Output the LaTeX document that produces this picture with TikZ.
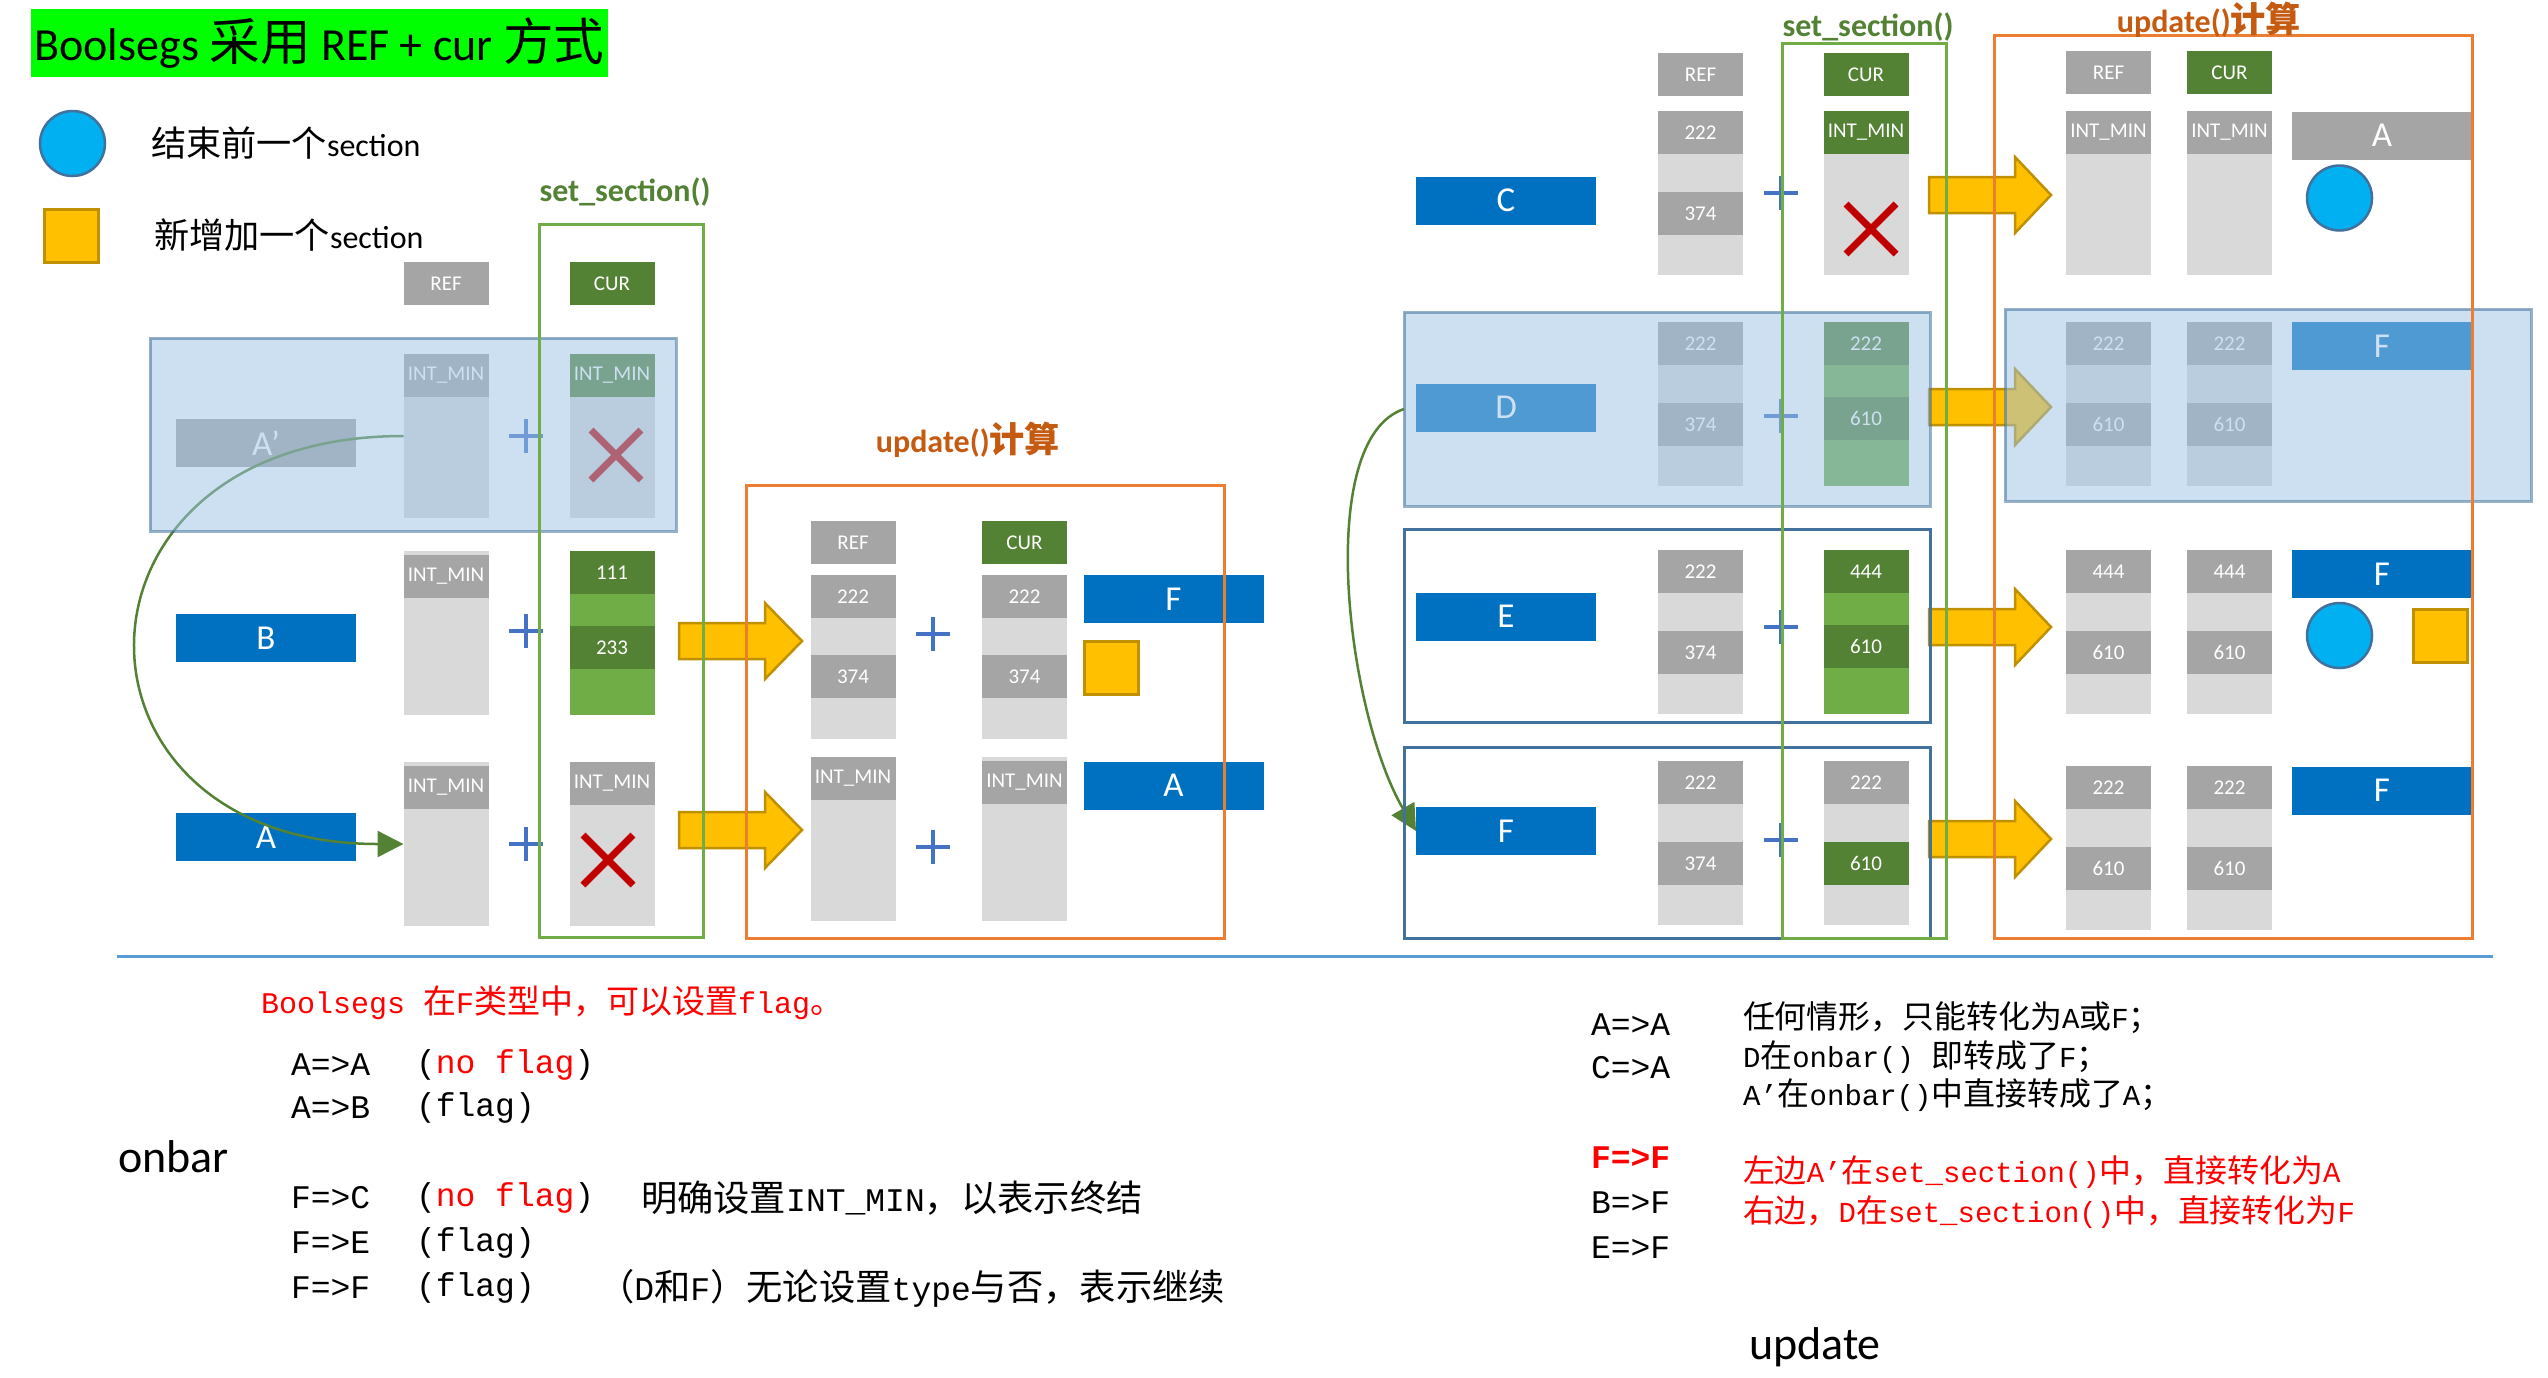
\documentclass[tikz,border=0pt]{standalone}
\usepackage{fontspec}
\setmainfont{Carlito}
\newfontfamily\cjk[Scale=1.1]{Noto Sans CJK SC}
\newfontfamily\mono{Liberation Mono}
\newcommand{\zh}[1]{{\cjk #1}}
\usetikzlibrary{arrows.meta,positioning}

\definecolor{lgray}{HTML}{D9D9D9}
\definecolor{dgray}{HTML}{A5A5A5}
\definecolor{dgreen}{HTML}{548235}
\definecolor{lgreen}{HTML}{70AD47}
\definecolor{barblue}{HTML}{0070C0}
\definecolor{plusblue}{HTML}{4472C4}
\definecolor{xred}{HTML}{C00000}
\definecolor{veilblue}{HTML}{9DC3E6}
\definecolor{edgeblue}{HTML}{41719C}
\definecolor{ayellow}{HTML}{FFC000}
\definecolor{adark}{HTML}{BF9000}
\definecolor{forange}{HTML}{ED7D31}
\definecolor{lorange}{HTML}{C55A11}
\definecolor{sepblue}{HTML}{5B9BD5}
\definecolor{cyanfill}{HTML}{00B0F0}
\definecolor{tgreen}{HTML}{00FF00}

\begin{document}
\begin{tikzpicture}[
    x=1pt, y=-1pt,
    every node/.style={inner sep=0pt, outer sep=0pt},
    colbg/.style={fill=lgray, minimum width=85pt, minimum height=164pt, anchor=north},
    gcolbg/.style={colbg, fill=lgreen},
    cell/.style={fill=dgray, minimum width=85pt, minimum height=43pt, anchor=north, text=white, font=\fontsize{21}{21}\selectfont},
    gcell/.style={cell, fill=dgreen},
    bar/.style={fill=barblue, minimum width=180pt, minimum height=48pt, text=white, font=\fontsize{35}{35}\selectfont},
    gbar/.style={bar, fill=dgray},
    plussign/.style={draw=plusblue, line width=4pt},
    xmark/.style={draw=xred, line width=7pt},
    veil/.style={fill=veilblue, fill opacity=.51, draw=edgeblue, draw opacity=.55, line width=3pt, anchor=north west},
    edgebox/.style={draw=edgeblue, line width=3pt, anchor=north west},
    setframe/.style={draw=lgreen, line width=3pt, anchor=north west},
    updframe/.style={draw=forange, line width=3pt, anchor=north west},
    yarrow/.style={fill=ayellow, draw=adark, line width=2.5pt},
    link/.style={draw=dgreen, line width=2.5pt, -{Triangle[length=26pt, width=26pt]}},
    endmark/.style={circle, fill=cyanfill, draw=edgeblue, line width=2.5pt, minimum size=65pt},
    newmark/.style={fill=ayellow, draw=adark, line width=3pt, minimum width=54pt, minimum height=53pt},
    setlabel/.style={text=dgreen, font=\bfseries\fontsize{32}{32}\selectfont},
    updlabel/.style={text=lorange, font=\bfseries\fontsize{32}{32}\selectfont},
    txt/.style={anchor=west, font=\mono\fontsize{33}{33}\selectfont},
    ]
    \useasboundingbox (0,0) rectangle (2548,1377);

    % title and legend
    \node[fill=tgreen, minimum width=577pt, minimum height=68pt, anchor=north west, font=\fontsize{46}{46}\selectfont] (title) at (31,9) {Boolsegs \zh{采用} REF + cur \zh{方式}};
    \node[endmark] (legend-end) at (72.5,143.5) {};
    \node[right=46pt of legend-end, font=\fontsize{32}{32}\selectfont] (legend-end-txt) {\zh{结束前一个}section};
    \node[newmark] (legend-new) at (71,235.5) {};
    \node[right=56pt of legend-new, font=\fontsize{32}{32}\selectfont] (legend-new-txt) {\zh{新增加一个}section};

    % left: set_section()
    \node[cell] (l-ref) at (446,262) {REF};
    \node[gcell] (l-cur) at (612,262) {CUR};
    \node[colbg] (lAp-ref) at (446,354) {};
    \node[cell] (lAp-ref-h) at (lAp-ref.north) {INT\_MIN};
    \node[colbg] (lAp-cur) at (612,354) {};
    \node[gcell] (lAp-cur-h) at (lAp-cur.north) {INT\_MIN};
    \node[colbg] (lB-ref) at (446,551) {};
    \node[cell] (lB-ref-h) at ([yshift=-4pt]lB-ref.north) {INT\_MIN};
    \node[gcolbg] (lB-cur) at (612,551) {};
    \node[gcell] (lB-cur-a) at (lB-cur.north) {111};
    \node[gcell] (lB-cur-b) at ([yshift=-75pt]lB-cur.north) {233};
    \node[colbg] (lA-ref) at (446,762) {};
    \node[cell] (lA-ref-h) at ([yshift=-4pt]lA-ref.north) {INT\_MIN};
    \node[colbg] (lA-cur) at (612,762) {};
    \node[cell] (lA-cur-h) at (lA-cur.north) {INT\_MIN};
    \node[gbar] (lAp) at (266,443) {A'};
    \node[bar] (lB) at (266,638) {B};
    \node[bar] (lA) at (266,837) {A};

    % left: update()
    \node[cell] (ul-ref) at (853,521) {REF};
    \node[gcell] (ul-cur) at (1024.5,521) {CUR};
    \foreach \c/\x in {ref/853,cur/1024.5} {
        \node[colbg] (ul1-\c) at (\x,575) {};
        \node[cell] (ul1-\c-a) at (ul1-\c.north) {222};
        \node[cell] (ul1-\c-b) at ([yshift=-80pt]ul1-\c.north) {374};
        \node[colbg] (ul2-\c) at (\x,757) {};
    }
    \node[cell] (ul2-ref-h) at (ul2-ref.north) {INT\_MIN};
    \node[cell] (ul2-cur-h) at ([yshift=-4pt]ul2-cur.north) {INT\_MIN};
    \node[bar] (ulF) at (1173.5,599) {F};
    \node[bar] (ulA) at (1173.5,785.5) {A};
    \node[newmark] (ul-new) at (1111,668) {};

    % right: set_section()
    \node[cell] (r-ref) at (1700.5,53) {REF};
    \node[gcell] (r-cur) at (1866,53) {CUR};
    \foreach \n/\y in {C/111,D/322,E/550,F/761} {
        \node[colbg] (r\n-ref) at (1700.5,\y) {};
        \node[cell] (r\n-ref-a) at (r\n-ref.north) {222};
        \node[cell] (r\n-ref-b) at ([yshift=-81pt]r\n-ref.north) {374};
    }
    \node[colbg] (rC-cur) at (1866,111) {};
    \node[gcell] (rC-cur-h) at (rC-cur.north) {INT\_MIN};
    \node[gcolbg] (rD-cur) at (1866,322) {};
    \node[gcell] (rD-cur-a) at (rD-cur.north) {222};
    \node[gcell] (rD-cur-b) at ([yshift=-75pt]rD-cur.north) {610};
    \node[gcolbg] (rE-cur) at (1866,550) {};
    \node[gcell] (rE-cur-a) at (rE-cur.north) {444};
    \node[gcell] (rE-cur-b) at ([yshift=-75pt]rE-cur.north) {610};
    \node[colbg] (rF-cur) at (1866,761) {};
    \node[cell] (rF-cur-a) at (rF-cur.north) {222};
    \node[gcell] (rF-cur-b) at ([yshift=-81pt]rF-cur.north) {610};
    \foreach \n/\y in {C/200.5,D/407.5,E/616.5,F/831}
        \node[bar] (r\n) at (1506,\y) {\n};

    % right: update()
    \node[cell] (ur-ref) at (2108.5,51) {REF};
    \node[gcell] (ur-cur) at (2229.5,51) {CUR};
    \foreach \c/\x in {ref/2108.5,cur/2229.5} {
        \node[colbg] (ur1-\c) at (\x,111) {};
        \node[cell] (ur1-\c-h) at (ur1-\c.north) {INT\_MIN};
    }
    \foreach \n/\y/\t in {2/322/222,3/550/444,4/766/222} {
        \foreach \c/\x in {ref/2108.5,cur/2229.5} {
            \node[colbg] (ur\n-\c) at (\x,\y) {};
            \node[cell] (ur\n-\c-a) at (ur\n-\c.north) {\t};
            \node[cell] (ur\n-\c-b) at ([yshift=-81pt]ur\n-\c.north) {610};
        }
    }
    \node[gbar] (urA) at (2382,135.5) {A};
    \foreach \n/\y in {2/346,3/574,4/790.5}
        \node[bar] (urF\n) at (2382,\y) {F};
    \node[endmark] (ur-end1) at (2339.5,198) {};
    \node[endmark] (ur-end3) at (2339.5,635.5) {};
    \node[newmark] (ur-new3) at (2440,635.5) {};

    % plus signs and crosses
    \foreach \x/\y in {526/436,526/631,526/844,933/634,933/847,1781/193,1781/416,1781/627,1781/840}
        \draw[plussign] (\x-17,\y) -- (\x+17,\y) (\x,\y-17) -- (\x,\y+17);
    \foreach \x/\y in {616/455,608/860,1871/229}
        \draw[xmark] (\x-25,\y-25) -- (\x+25,\y+25) (\x-25,\y+25) -- (\x+25,\y-25);

    % block arrows
    \foreach \y in {641,830}
        \draw[yarrow] (679,\y-18) -- (765,\y-18) -- (765,\y-38) -- (802,\y) -- (765,\y+38) -- (765,\y+18) -- (679,\y+18) -- cycle;
    \foreach \y in {195,407,627,839}
        \draw[yarrow] (1929,\y-18) -- (2015,\y-18) -- (2015,\y-38) -- (2051,\y) -- (2015,\y+38) -- (2015,\y+18) -- (1929,\y+18) -- cycle;

    \draw[link] (lAp-ref.west) .. controls +(-355,0) and +(-355,0) .. (lA-ref.west);

    % shaded and framed groups
    \node[veil, minimum width=526pt, minimum height=193pt] (lAp-box) at (150,338) {};
    \node[veil, minimum width=526pt, minimum height=194pt] (rD-box) at (1404,312) {};
    \node[veil, minimum width=526pt, minimum height=192pt] (ur2-box) at (2005,309) {};
    \draw[link] (rD-box.west) .. controls +(-90,30) and +(-70,-120) .. (rF.west);
    \node[edgebox, minimum width=526pt, minimum height=193pt] (rE-box) at (1404,529) {};
    \node[edgebox, minimum width=526pt, minimum height=191pt] (rF-box) at (1404,747) {};

    \node[setframe, minimum width=164pt, minimum height=713pt] (l-set) at (539,224) {};
    \node[setframe, minimum width=164pt, minimum height=895pt] (r-set) at (1782,43) {};
    \node[updframe, minimum width=478pt, minimum height=453pt] (l-upd) at (746,485) {};
    \node[updframe, minimum width=478pt, minimum height=903pt] (r-upd) at (1994,35) {};
    \node[setlabel] (l-set-lbl) at (625,192) {set\_section()};
    \node[setlabel] (r-set-lbl) at (1868,27) {set\_section()};
    \node[updlabel] (l-upd-lbl) at (968,440) {update()\zh{计算}};
    \node[updlabel] (r-upd-lbl) at (2209,20) {update()\zh{计算}};

    \draw[draw=sepblue, line width=3pt] (117,956) -- (2493,956);

    % notes: onbar
    \node[txt, text=red, font=\mono\fontsize{30}{30}\selectfont] (ob-note) at (261,1003) {Boolsegs \zh{在}F\zh{类型中，可以设置}flag\zh{。}};
    \node[anchor=west, font=\fontsize{46}{46}\selectfont] (onbar) at (118,1157) {onbar};
    \node[txt] (ob-aa) at (291,1065) {A=>A};
    \node[txt] (ob-aa-f) at (416,1065) {(\textcolor{red}{no flag})};
    \node[txt] (ob-ab) at (291,1108) {A=>B};
    \node[txt] (ob-ab-f) at (416,1108) {(flag)};
    \node[txt] (ob-fc) at (291,1198) {F=>C};
    \node[txt] (ob-fc-f) at (416,1198) {(\textcolor{red}{no flag})};
    \node[txt] (ob-fc-t) at (641,1198) {\zh{明确设置}INT\_MIN\zh{，以表示终结}};
    \node[txt] (ob-fe) at (291,1243) {F=>E};
    \node[txt] (ob-fe-f) at (416,1243) {(flag)};
    \node[txt] (ob-ff) at (291,1288) {F=>F};
    \node[txt] (ob-ff-f) at (416,1288) {(flag)};
    \node[txt] (ob-ff-t) at (598,1288) {\zh{（}D\zh{和}F\zh{）无论设置}type\zh{与否，表示继续}};

    % notes: update
    \node[txt] (up-aa) at (1591,1025) {A=>A};
    \node[txt] (up-ca) at (1591,1068) {C=>A};
    \node[txt, text=red, font=\mono\bfseries\fontsize{33}{33}\selectfont] (up-ff) at (1591,1158) {F=>F};
    \node[txt] (up-bf) at (1591,1203) {B=>F};
    \node[txt] (up-ef) at (1591,1248) {E=>F};
    \node[txt, font=\mono\fontsize{29}{29}\selectfont] (up-t1) at (1743,1018) {\zh{任何情形，只能转化为}A\zh{或}F\zh{；}};
    \node[txt, font=\mono\fontsize{29}{29}\selectfont] (up-t2) at (1743,1057) {D\zh{在}onbar() \zh{即转成了}F\zh{；}};
    \node[txt, font=\mono\fontsize{29}{29}\selectfont] (up-t3) at (1743,1095) {A’\zh{在}onbar()\zh{中直接转成了}A\zh{；}};
    \node[txt, text=red, font=\mono\fontsize{29}{29}\selectfont] (up-t4) at (1743,1172) {\zh{左边}A’\zh{在}set\_section()\zh{中，直接转化为}A};
    \node[txt, text=red, font=\mono\fontsize{29}{29}\selectfont] (up-t5) at (1743,1212) {\zh{右边，}D\zh{在}set\_section()\zh{中，直接转化为}F};
    \node[anchor=west, font=\fontsize{46}{46}\selectfont] (update) at (1749,1347) {update};
\end{tikzpicture}
\end{document}
